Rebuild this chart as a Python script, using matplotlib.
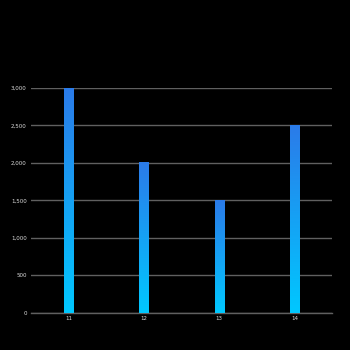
import matplotlib
matplotlib.use("Agg")
import matplotlib.pyplot as plt
import numpy as np
from matplotlib.colors import LinearSegmentedColormap

categories = ["11", "12", "13", "14"]
values = [3000, 2000, 1500, 2500]
yticks = [0, 500, 1000, 1500, 2000, 2500, 3000]
ytick_labels = ["0", "500", "1,000", "1,500", "2,000", "2,500", "3,000"]

fig = plt.figure(figsize=(3.5, 3.5), dpi=100, facecolor="black")
ax = fig.add_axes([0.0886, 0.1057, 0.86, 0.643], facecolor="black")

x = np.arange(len(categories))
width = 0.12
cmap = LinearSegmentedColormap.from_list("g", ["#00c8ff", "#2b7be9"])
grad = np.linspace(0, 1, 256).reshape(-1, 1)

for xi, v in zip(x, values):
    ax.imshow(grad, extent=(xi - width / 2, xi + width / 2, 0, v), origin="lower",
              cmap=cmap, aspect="auto", zorder=3)
ax.set_xlim(-0.5, len(categories) - 0.5)
ax.set_ylim(0, 3000)

ax.set_yticks(yticks)
ax.set_yticklabels(ytick_labels)
ax.set_xticks(x)
ax.set_xticklabels(categories)
ax.yaxis.grid(True, color="#606060", linewidth=1.0, zorder=0)
ax.set_axisbelow(True)
for s in ["top", "right", "left"]:
    ax.spines[s].set_visible(False)
ax.spines["bottom"].set_color("#606060")
ax.spines["bottom"].set_linewidth(1.0)
ax.tick_params(axis="both", length=0, colors="#dddddd", labelsize=4)
ax.tick_params(axis="y", pad=3)
ax.tick_params(axis="x", pad=2)

fig.savefig("out.png", dpi=100, facecolor="black")
